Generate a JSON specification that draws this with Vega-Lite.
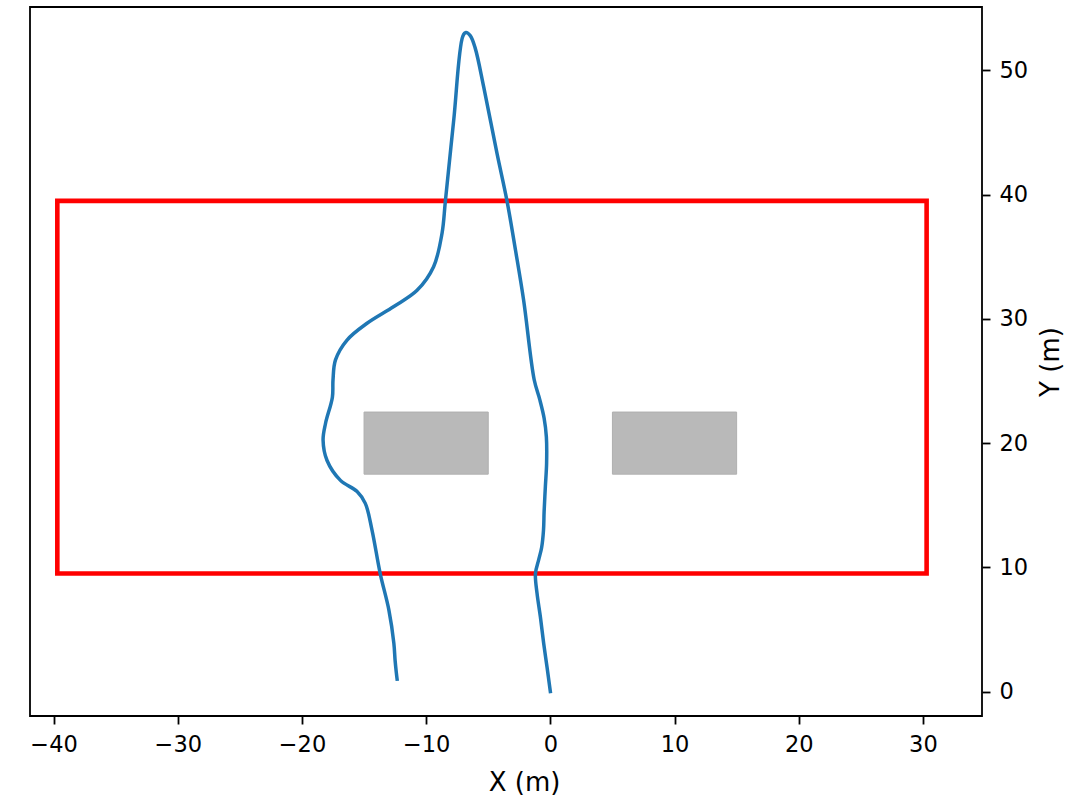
{
  "$schema": "https://vega.github.io/schema/vega-lite/v6.json",
  "width": 952,
  "height": 709,
  "autosize": {"type": "none"},
  "padding": {"left": 30, "top": 7, "right": 84, "bottom": 81},
  "background": "white",
  "config": {
    "view": {"stroke": "#000000", "strokeWidth": 1.8},
    "font": "DejaVu Sans"
  },
  "datasets": {
    "zone": [{"x": -39.7, "x2": 30.3, "y": 9.5, "y2": 39.5}],
    "obstacles": [
      {"x": -15, "x2": -5, "y": 17.5, "y2": 22.5},
      {"x": 5, "x2": 15, "y": 17.5, "y2": 22.5}
    ],
    "path": [
      {"i": 0, "x": 0.0, "y": 0.0},
      {"i": 1, "x": -0.27, "y": 2.0},
      {"i": 2, "x": -0.54, "y": 3.9},
      {"i": 3, "x": -0.8, "y": 6.0},
      {"i": 4, "x": -1.07, "y": 7.9},
      {"i": 5, "x": -1.2, "y": 9.5},
      {"i": 6, "x": -0.94, "y": 10.6},
      {"i": 7, "x": -0.7, "y": 11.6},
      {"i": 8, "x": -0.55, "y": 13.0},
      {"i": 9, "x": -0.5, "y": 14.5},
      {"i": 10, "x": -0.4, "y": 16.5},
      {"i": 11, "x": -0.3, "y": 18.4},
      {"i": 12, "x": -0.32, "y": 20.5},
      {"i": 13, "x": -0.5, "y": 22.0},
      {"i": 14, "x": -0.85, "y": 23.5},
      {"i": 15, "x": -1.3, "y": 25.1},
      {"i": 16, "x": -2.15, "y": 31.5},
      {"i": 17, "x": -2.8, "y": 35.5},
      {"i": 18, "x": -3.49, "y": 39.5},
      {"i": 19, "x": -4.29, "y": 43.3},
      {"i": 20, "x": -5.37, "y": 48.7},
      {"i": 21, "x": -6.05, "y": 51.8},
      {"i": 22, "x": -6.45, "y": 52.8},
      {"i": 23, "x": -6.8, "y": 53.05},
      {"i": 24, "x": -7.05, "y": 52.75},
      {"i": 25, "x": -7.78, "y": 46.0},
      {"i": 26, "x": -8.45, "y": 39.5},
      {"i": 27, "x": -8.72, "y": 36.9},
      {"i": 28, "x": -9.4, "y": 34.2},
      {"i": 29, "x": -10.73, "y": 32.3},
      {"i": 30, "x": -12.6, "y": 31.0},
      {"i": 31, "x": -14.76, "y": 29.65},
      {"i": 32, "x": -16.37, "y": 28.3},
      {"i": 33, "x": -17.3, "y": 26.7},
      {"i": 34, "x": -17.5, "y": 25.1},
      {"i": 35, "x": -17.55, "y": 23.7},
      {"i": 36, "x": -18.1, "y": 21.6},
      {"i": 37, "x": -18.3, "y": 20.25},
      {"i": 38, "x": -17.98, "y": 18.6},
      {"i": 39, "x": -16.9, "y": 17.0},
      {"i": 40, "x": -15.56, "y": 16.1},
      {"i": 41, "x": -14.9, "y": 15.15},
      {"i": 42, "x": -14.36, "y": 13.0},
      {"i": 43, "x": -13.7, "y": 9.5},
      {"i": 44, "x": -13.0, "y": 6.56},
      {"i": 45, "x": -12.6, "y": 3.88},
      {"i": 46, "x": -12.5, "y": 2.5},
      {"i": 47, "x": -12.4, "y": 1.5},
      {"i": 48, "x": -12.34, "y": 1.0}
    ]
  },
  "layer": [
    {
      "data": {"name": "obstacles"},
      "mark": {"type": "rect", "fill": "#b9b9b9", "stroke": "#b0b0b0", "strokeWidth": 1},
      "encoding": {
        "x": {"field": "x", "type": "quantitative", "scale": {"domain": [-41.9, 34.76], "nice": false, "zero": false},
          "axis": {
            "orient": "bottom",
            "values": [-40, -30, -20, -10, 0, 10, 20, 30],
            "grid": false,
            "domain": false,
            "tickSize": 8,
            "tickWidth": 1.8,
            "tickColor": "#000000",
            "labelFont": "DejaVu Sans",
            "labelFontSize": 22.5,
            "labelColor": "#000000",
            "labelPadding": 9,
            "labelFlush": false,
            "labelOverlap": false,
            "title": "X (m)",
            "titleFont": "DejaVu Sans",
            "titleFontSize": 26,
            "titleFontWeight": "normal",
            "titleColor": "#000000",
            "titleX": 494,
            "titleY": 74,
            "titleAlign": "center",
            "titleBaseline": "alphabetic"
          }},
        "x2": {"field": "x2"},
        "y": {"field": "y", "type": "quantitative", "scale": {"domain": [-1.97, 55.11], "nice": false, "zero": false},
          "axis": {
            "orient": "right",
            "values": [0, 10, 20, 30, 40, 50],
            "grid": false,
            "domain": false,
            "tickSize": 8,
            "tickWidth": 1.8,
            "tickColor": "#000000",
            "labelFont": "DejaVu Sans",
            "labelFontSize": 22.5,
            "labelColor": "#000000",
            "labelPadding": 9,
            "labelFlush": false,
            "labelOverlap": false,
            "title": "Y (m)",
            "titleFont": "DejaVu Sans",
            "titleFontSize": 26,
            "titleFontWeight": "normal",
            "titleColor": "#000000",
            "titleAngle": 270,
            "titleX": 76,
            "titleY": 354.5,
            "titleAlign": "center",
            "titleBaseline": "alphabetic"
          }},
        "y2": {"field": "y2"}
      }
    },
    {
      "data": {"name": "zone"},
      "mark": {"type": "rect", "fillOpacity": 0, "fill": "white", "stroke": "#ff0000", "strokeWidth": 4.6},
      "encoding": {
        "x": {"field": "x", "type": "quantitative"},
        "x2": {"field": "x2"},
        "y": {"field": "y", "type": "quantitative"},
        "y2": {"field": "y2"}
      }
    },
    {
      "data": {"name": "path"},
      "mark": {"type": "line", "color": "#1f77b4", "strokeWidth": 3.5, "strokeJoin": "round", "strokeCap": "square", "interpolate": "catmull-rom"},
      "encoding": {
        "x": {"field": "x", "type": "quantitative"},
        "y": {"field": "y", "type": "quantitative"},
        "order": {"field": "i", "type": "quantitative"}
      }
    }
  ]
}
